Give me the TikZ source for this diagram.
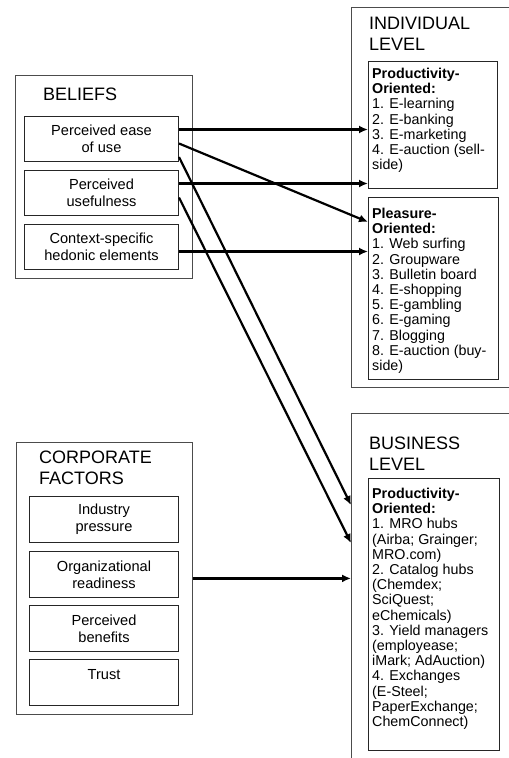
\documentclass[tikz,border=0pt]{standalone}
\usepackage{fontspec}
\setmainfont{Liberation Sans}
\usepackage{tikz}
\usetikzlibrary{arrows.meta}
\tikzset{>={Latex[length=9bp,width=8bp]}}
\tikzset{
  outerbox/.style={draw=black!70,line width=0.8bp,anchor=north west,inner sep=0pt},
  innerbox/.style={draw=black!85,line width=1bp,anchor=north west,inner sep=0pt,align=center,font=\fontsize{14.6bp}{17bp}\selectfont},
  listbox/.style={draw=black!85,line width=1bp,anchor=north west,inner sep=0pt},
  titletext/.style={anchor=north west,inner sep=0pt,align=left,font=\fontsize{18bp}{21bp}\selectfont},
  listtext/.style={anchor=north west,inner sep=0pt,align=left,font=\fontsize{14.3bp}{15.2bp}\selectfont},
  linkarrow/.style={->,line width=2.2bp}
}

\begin{document}
\begin{tikzpicture}[x=1bp,y=-1bp]
	\useasboundingbox (0,0) rectangle (509,758);

	% left side
	\node[outerbox,minimum width=177bp,minimum height=203bp] (beliefs) at (15,75) {};
	\node[titletext] (beltitle) at (43,88) {BELIEFS};
	\node[innerbox,minimum width=154bp,minimum height=45bp] (easeuse) at (24,116) {Perceived ease\\of use};
	\node[innerbox,minimum width=154bp,minimum height=45bp] (useful) at (24,170) {Perceived\\usefulness};
	\node[innerbox,minimum width=154bp,minimum height=45bp] (hedonic) at (24,224) {Context-specific\\hedonic elements};

	\node[outerbox,minimum width=176bp,minimum height=272bp] (corp) at (16,442) {};
	\node[titletext] (corptitle) at (39,451) {CORPORATE\\FACTORS};
	\node[innerbox,minimum width=149bp,minimum height=46bp] (industry) at (29,496) {Industry\\pressure};
	\node[innerbox,minimum width=149bp,minimum height=46bp] (orgready) at (29,551) {Organizational\\readiness};
	\node[innerbox,minimum width=149bp,minimum height=46bp] (benefits) at (29,605) {Perceived\\benefits};
	\node[innerbox,minimum width=149bp,minimum height=46bp] (trust) at (29,659) {Trust\\\mbox{}};

	% right side
	\node[outerbox,minimum width=170bp,minimum height=380bp] (individual) at (351,7) {};
	\node[titletext] (indtitle) at (369,17) {INDIVIDUAL\\LEVEL};
	\node[listbox,minimum width=129bp,minimum height=127bp] (indprod) at (368,61) {};
	\node[listtext] (indprodtext) at ([xshift=4bp,yshift=-7bp]indprod.north west)
		{\textbf{Productivity-}\\\textbf{Oriented:}\\1. E-learning\\2. E-banking\\3. E-marketing\\4. E-auction (sell-\\side)};
	\node[listbox,minimum width=130bp,minimum height=182bp] (indpleas) at (368,197) {};
	\node[listtext] (indpleastext) at ([xshift=4bp,yshift=-11bp]indpleas.north west)
		{\textbf{Pleasure-}\\\textbf{Oriented:}\\1. Web surfing\\2. Groupware\\3. Bulletin board\\4. E-shopping\\5. E-gambling\\6. E-gaming\\7. Blogging\\8. E-auction (buy-\\side)};

	\node[outerbox,minimum width=170bp,minimum height=360bp] (business) at (351,413) {};
	\node[titletext] (bustitle) at (369,436.5) {BUSINESS\\LEVEL};
	\node[listbox,minimum width=131bp,minimum height=272bp] (busprod) at (368,478) {};
	\node[listtext] (busprodtext) at ([xshift=4bp,yshift=-10bp]busprod.north west)
		{\textbf{Productivity-}\\\textbf{Oriented:}\\1. MRO hubs\\(Airba; Grainger;\\MRO.com)\\2. Catalog hubs\\(Chemdex;\\SciQuest;\\eChemicals)\\3. Yield managers\\(employease;\\iMark; AdAuction)\\4. Exchanges\\(E-Steel;\\PaperExchange;\\ChemConnect)};

	% links
	\draw[linkarrow] ([yshift=9.5bp]easeuse.east) -- ([yshift=9.5bp]easeuse.east -| indprod.west);
	\draw[linkarrow] ([yshift=-4.5bp]easeuse.east) -- ([yshift=-25bp]indpleas.north west);
	\draw[linkarrow] ([yshift=5bp]easeuse.south east) -- ([yshift=-92bp]business.north west);
	\draw[linkarrow] ([yshift=9.5bp]useful.east) -- ([yshift=9.5bp]useful.east -| indprod.west);
	\draw[linkarrow] ([yshift=-4.5bp]useful.east) -- ([yshift=-130bp]business.north west);
	\draw[linkarrow] ([yshift=-4.5bp]hedonic.east) -- ([yshift=-4.5bp]hedonic.east -| indpleas.west);
	\draw[linkarrow] (corp.east) -- (corp.east -| business.west);
\end{tikzpicture}
\end{document}
